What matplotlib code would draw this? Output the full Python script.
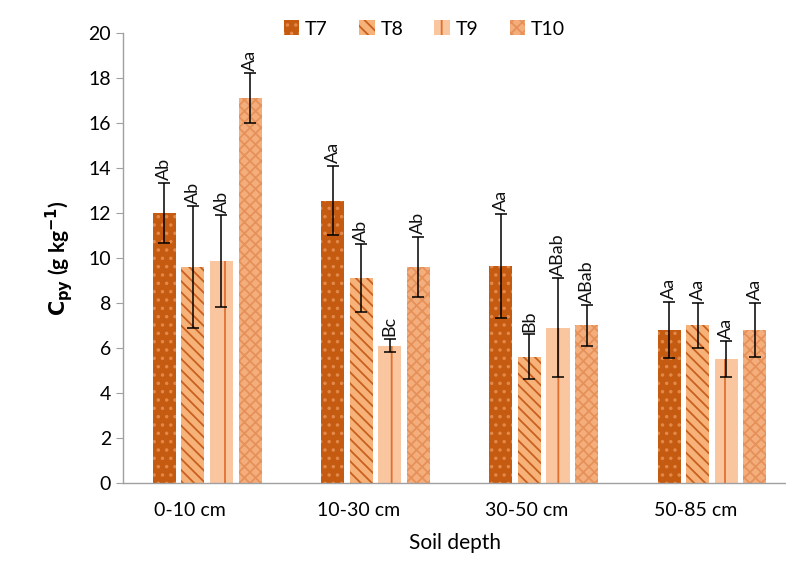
import matplotlib
matplotlib.use("Agg")
import matplotlib.pyplot as plt
import numpy as np

depths = ["0-10 cm", "10-30 cm", "30-50 cm", "50-85 cm"]
series = ["T7", "T8", "T9", "T10"]
means = {
    "T7": [12.0, 12.55, 9.65, 6.8],
    "T8": [9.6, 9.1, 5.6, 7.0],
    "T9": [9.85, 6.1, 6.9, 5.5],
    "T10": [17.1, 9.6, 7.0, 6.8],
}
errs = {
    "T7": [1.35, 1.55, 2.3, 1.25],
    "T8": [2.7, 1.5, 1.0, 1.0],
    "T9": [2.05, 0.3, 2.2, 0.8],
    "T10": [1.1, 1.35, 0.9, 1.2],
}
letters = {
    "T7": ["Ab", "Aa", "Aa", "Aa"],
    "T8": ["Ab", "Ab", "Bb", "Aa"],
    "T9": ["Ab", "Bc", "ABab", "Aa"],
    "T10": ["Aa", "Ab", "ABab", "Aa"],
}

styles = {
    "T7": dict(face="#C55A11", hatch_col="#E2894A", hatch=".."),
    "T8": dict(face="#F7B27A", hatch_col="#C8601E", hatch="\\\\\\"),
    "T9": dict(face="#F9C6A0", hatch_col="#E0702E", hatch="|"),
    "T10": dict(face="#F4AE7C", hatch_col="#E6915A", hatch="xxx"),
}

plt.rcParams["font.family"] = ["Lato", "DejaVu Sans"]
plt.rcParams["hatch.linewidth"] = 1.3

fig = plt.figure(figsize=(7.86, 5.86), dpi=100)
ax = fig.add_axes([0.1565, 0.1758, 0.8435, 0.7679])

x = np.arange(len(depths))
width = 0.137
step = 0.170
handles = []
for i, s in enumerate(series):
    st = styles[s]
    pos = x + (i - 1.5) * step
    b = ax.bar(pos, means[s], width, color=st["face"], edgecolor=st["hatch_col"],
               hatch=st["hatch"], linewidth=0, label=s)
    handles.append(b)
    ax.errorbar(pos, means[s], yerr=errs[s], fmt="none", ecolor="black",
                elinewidth=1.1, capsize=4, capthick=1.1)
    for p, m, e, t in zip(pos, means[s], errs[s], letters[s]):
        ax.text(p, m + e + 0.12, t, rotation=90, ha="center", va="bottom",
                fontsize=13, color="#111111")

ax.set_xlim(-0.5, 3.44)
ax.set_ylim(0, 20)
ax.set_yticks(np.arange(0, 21, 2))
ax.set_xticks(x - 0.1)
ax.set_xticklabels(depths, fontsize=14)
ax.tick_params(axis="y", labelsize=14, length=5, color="#A0A0A0", direction="out")
ax.tick_params(axis="x", length=0, pad=14)
for sp in ["top", "right"]:
    ax.spines[sp].set_visible(False)
for sp in ["left", "bottom"]:
    ax.spines[sp].set_color("#A0A0A0")
    ax.spines[sp].set_linewidth(1.0)

ax.set_xlabel("Soil depth", fontsize=15, labelpad=10)
ax.set_ylabel(r"$\mathbf{C_{py}}$ (g kg$^{\mathbf{-1}}$)", fontsize=15,
              fontweight="bold", labelpad=10)

fig.legend(handles=handles, labels=series, loc="upper center",
           bbox_to_anchor=(0.54, 0.995), ncol=4, frameon=False, fontsize=14,
           handlelength=0.8, handleheight=0.8, handletextpad=0.3, columnspacing=1.6)

fig.savefig("out.png", dpi=100)
